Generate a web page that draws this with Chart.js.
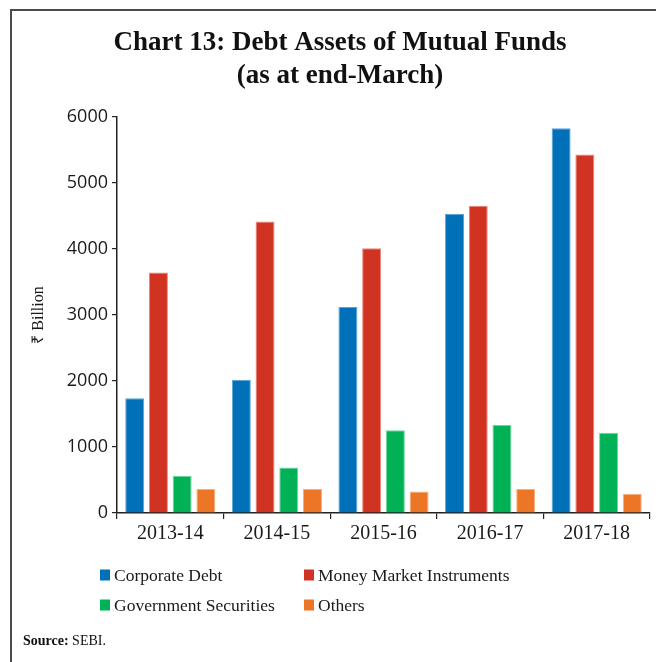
<!DOCTYPE html>
<html>
<head>
<meta charset="utf-8">
<title>Debt Assets of Mutual Funds</title>
<script src="https://cdn.jsdelivr.net/npm/chart.js@4/dist/chart.umd.min.js"></script>
<style>
  html, body { margin: 0; padding: 0; background: #fff; }
  #wrap { position: relative; width: 656px; height: 662px; overflow: hidden; }
  #frame { position: absolute; left: 10px; top: 9px; width: 700px; height: 700px;
           border-top: 2px solid #4a4a4a; border-left: 2px solid #4a4a4a; box-sizing: border-box; }
  canvas { position: absolute; left: 0; top: 0; }
</style>
</head>
<body>
<div id="wrap">
  <div id="frame"></div>
  <canvas id="chart" width="656" height="662"></canvas>
</div>
<script>
// Fiscal years (as at end-March), values in ₹ billion
const years = ['2013-14', '2014-15', '2015-16', '2016-17', '2017-18'];
const corporateDebt = [1740, 2020, 3120, 4535, 5830];
const moneyMarket   = [3645, 4415, 4010, 4655, 5430];
const governmentSec = [565, 690, 1255, 1335, 1215];
const others        = [365, 365, 325, 365, 290];
const seriesNames = ['Corporate Debt', 'Money Market Instruments', 'Government Securities', 'Others'];
const yTicks = [0, 1000, 2000, 3000, 4000, 5000, 6000];

const titleLines = ['Chart 13: Debt Assets of Mutual Funds', '(as at end-March)'];
const serif = '"Liberation Serif", "Times New Roman", serif';
const sans = '"Open Sans", "Noto Sans", sans-serif';

const fills = ['#0070b9', '#d13322', '#00b156', '#ec7625'];
const edges = ['#5aa3d6', '#e8857a', '#6fd69b', '#f4b07f'];

function makeSet(i, values) {
  return {
    label: seriesNames[i],
    data: values,
    backgroundColor: fills[i],
    borderColor: edges[i],
    borderWidth: 1,
    categoryPercentage: 0.89,
    barPercentage: 0.8
  };
}

// Title, two-column legend and source note drawn onto the canvas
const decorations = {
  id: 'decorations',
  afterDraw(chart) {
    const ctx = chart.ctx;
    ctx.save();
    ctx.fillStyle = '#111';
    ctx.textAlign = 'center';
    ctx.textBaseline = 'middle';
    ctx.font = 'bold 27px ' + serif;
    ctx.fillText(titleLines[0], 340, 43);
    ctx.fillText(titleLines[1], 340, 76);

    // legend: two columns, two rows
    const cols = [100, 304];
    const rows = [575, 605];
    ctx.textAlign = 'left';
    ctx.font = '17.5px ' + serif;
    chart.data.datasets.forEach((ds, i) => {
      const x = cols[i % 2];
      const y = rows[Math.floor(i / 2)];
      ctx.fillStyle = ds.backgroundColor;
      ctx.fillRect(x, y - 5.5, 10, 11);
      ctx.fillStyle = '#1a1a1a';
      ctx.fillText(ds.label, x + 14, y + 1);
    });

    // source note
    ctx.font = 'bold 14px ' + serif;
    ctx.fillStyle = '#111';
    const lead = 'Source: ';
    ctx.fillText(lead, 23, 641);
    const w = ctx.measureText(lead).width;
    ctx.font = '14px ' + serif;
    ctx.fillText('SEBI.', 23 + w, 641);
    ctx.restore();
  }
};

new Chart(document.getElementById('chart'), {
  type: 'bar',
  data: {
    labels: years,
    datasets: [
      makeSet(0, corporateDebt),
      makeSet(1, moneyMarket),
      makeSet(2, governmentSec),
      makeSet(3, others)
    ]
  },
  options: {
    responsive: false,
    animation: false,
    layout: { padding: { top: 117, right: 6, bottom: 109, left: 0 } },
    plugins: {
      legend: { display: false },
      title: { display: false },
      tooltip: { enabled: false }
    },
    scales: {
      x: {
        offset: true,
        grid: { display: true, offset: true, drawOnChartArea: false, tickLength: 6, color: '#222', lineWidth: 1.2 },
        border: { display: true, color: '#222', width: 1.5 },
        ticks: { color: '#1a1a1a', font: { family: serif, size: 20 }, padding: 3, maxRotation: 0 },
        afterFit(scale) { scale.height = 40; }
      },
      y: {
        min: 0,
        max: 6000,
        afterBuildTicks(scale) { scale.ticks = yTicks.map(v => ({ value: v })); },
        grid: { display: true, drawOnChartArea: false, tickLength: 5, color: '#222', lineWidth: 1.2 },
        border: { display: true, color: '#222', width: 1.5 },
        ticks: { color: '#1a1a1a', font: { family: sans, size: 18 }, padding: 4, callback: v => String(v) },
        title: { display: true, text: '₹ Billion', color: '#1a1a1a', font: { family: serif, size: 16 }, padding: { top: 29, bottom: 0 } },
        afterFit(scale) { scale.width = 117; }
      }
    }
  },
  plugins: [decorations]
});
</script>
</body>
</html>
